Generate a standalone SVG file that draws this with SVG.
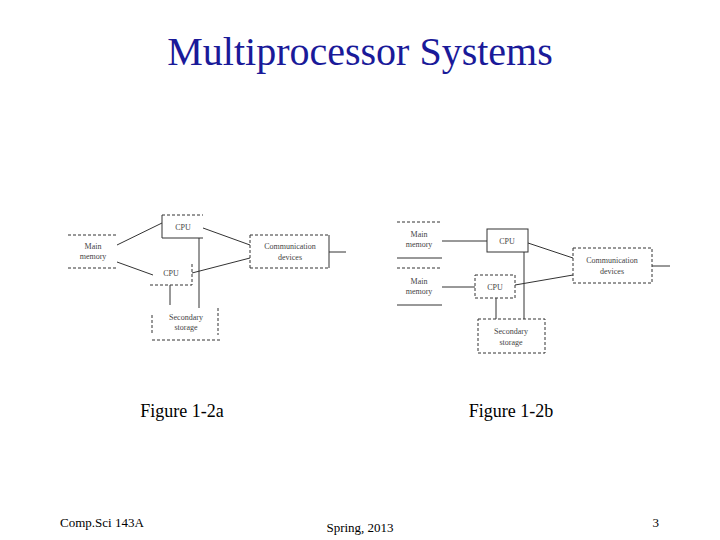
<svg xmlns="http://www.w3.org/2000/svg" width="720" height="540" viewBox="0 0 720 540">
<style>
.s{fill:none;stroke:#333;stroke-width:1}
.d{fill:none;stroke:#333;stroke-width:1;stroke-dasharray:3,2}
.t{font-family:"Liberation Serif",serif;font-size:8px;fill:#444;text-anchor:middle}
.f{font-family:"Liberation Serif",serif;font-size:18px;fill:#000;text-anchor:middle}
.ft{font-family:"Liberation Serif",serif;font-size:13px;fill:#000}
</style>
<rect width="720" height="540" fill="#fff"/>
<text x="360" y="65" style="font-family:'Liberation Serif',serif;font-size:40px;fill:#1a1a99" text-anchor="middle">Multiprocessor Systems</text>
<g id="a-cpu1"><path class="d" d="M162,215H203"/><path class="s" d="M162,215V238H203"/><text class="t" x="183" y="230">CPU</text></g>
<g id="a-mm"><path class="d" d="M68,235H117M68,268H117"/><text class="t" x="93" y="249">Main</text><text class="t" x="93" y="259">memory</text></g>
<g id="a-cpu2"><path class="d" d="M150,285H192V263"/><text class="t" x="171" y="276">CPU</text></g>
<g id="a-comm"><path class="d" d="M250,235H329M250,268H329M250,235V268"/><path class="s" d="M329,235V268"/><text class="t" x="290" y="249">Communication</text><text class="t" x="290" y="260">devices</text></g>
<g id="a-sec"><path class="d" d="M152,340H220M218,308V335M152,315V335"/><text class="t" x="186" y="320">Secondary</text><text class="t" x="186" y="330">storage</text></g>
<g id="b-mm1"><path class="d" d="M397,222H442"/><path class="s" d="M397,258H442"/><text class="t" x="419" y="237">Main</text><text class="t" x="419" y="247">memory</text></g>
<g id="b-mm2"><path class="d" d="M397,268H442"/><path class="s" d="M397,305H442"/><text class="t" x="419" y="284">Main</text><text class="t" x="419" y="294">memory</text></g>
<g id="b-cpu1"><rect class="s" x="487" y="229" width="41" height="23"/><text class="t" x="507" y="244">CPU</text></g>
<g id="b-cpu2"><rect class="d" x="475" y="275" width="40" height="23"/><text class="t" x="495" y="290">CPU</text></g>
<g id="b-comm"><rect class="d" x="573" y="248" width="79" height="35"/><text class="t" x="612" y="263">Communication</text><text class="t" x="612" y="274">devices</text></g>
<g id="b-sec"><rect class="d" x="478" y="319" width="67" height="34"/><text class="t" x="511" y="334">Secondary</text><text class="t" x="511" y="345">storage</text></g>
<g id="connectors" class="s">
<path class="s" d="M117,245L162,223M117,262L153,275M203,228L250,245M192,273L250,258M329,252H346M199,238V308M170,285V305"/>
<path class="s" d="M442,241H487M442,287H475M528,243L573,258M515,285L573,275M652,266H670M524,252V319M496,298V319"/>
</g>
<text class="f" x="182" y="417">Figure 1-2a</text>
<text class="f" x="511" y="417">Figure 1-2b</text>
<text class="ft" x="60" y="527">Comp.Sci 143A</text>
<text class="ft" x="360" y="532" text-anchor="middle">Spring, 2013</text>
<text class="ft" x="659" y="527" text-anchor="end">3</text>
</svg>
